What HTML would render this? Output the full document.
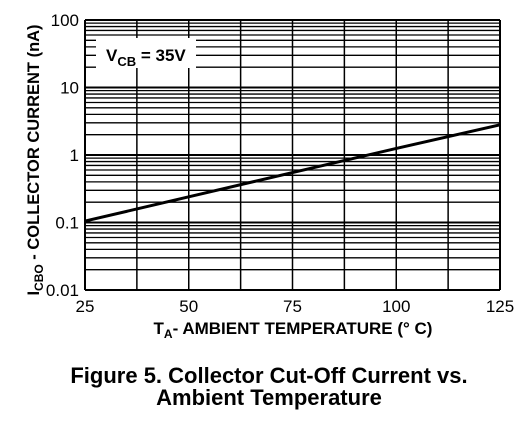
<!DOCTYPE html>
<html><head><meta charset="utf-8"><style>
body{margin:0;background:#fff;width:525px;height:427px;overflow:hidden;font-family:"Liberation Sans",Arial,sans-serif}
svg text{font-family:"Liberation Sans",Arial,sans-serif}
</style></head><body>
<svg width="525" height="427">
<g id="grid"></g>
<g id="ticks"></g>
<rect x="96" y="38" width="100" height="30" fill="#fff"/>
<text x="106" y="61" font-size="17" font-weight="bold">V<tspan font-size="13" dy="5">CB</tspan><tspan dy="-5"> = 35V</tspan></text>
<path id="series" fill="none" stroke="#000" stroke-width="3"/>
<text transform="translate(39,160) rotate(-90)" text-anchor="middle" font-size="16.5" font-weight="bold">I<tspan font-size="12" dy="4">CBO</tspan><tspan dy="-4"> - COLLECTOR CURRENT (nA)</tspan></text>
<text x="293" y="334" text-anchor="middle" font-size="17" font-weight="bold">T<tspan font-size="12" dy="4">A</tspan><tspan dy="-4">- AMBIENT TEMPERATURE (° C)</tspan></text>
<text x="269" y="383" text-anchor="middle" font-size="22" font-weight="bold">Figure 5. Collector Cut-Off Current vs.</text>
<text x="269" y="405" text-anchor="middle" font-size="22" font-weight="bold">Ambient Temperature</text>
</svg>
<script>
const temps=[25,50,75,100,125];
const currents=[0.105,0.24,0.55,1.25,2.8];
const xTicks=[25,50,75,100,125];
const yTicks=["0.01","0.1","1","10","100"];
const L=85,R=500,T=20,B=290;
const xs=t=>L+(t-25)/100*(R-L);
const ys=v=>B-(Math.log10(v)+2)/4*(B-T);
const NS="http://www.w3.org/2000/svg";
const g=document.getElementById('grid'),tk=document.getElementById('ticks');
function ln(x1,y1,x2,y2,w){const l=document.createElementNS(NS,'line');l.setAttribute('x1',x1);l.setAttribute('y1',y1);l.setAttribute('x2',x2);l.setAttribute('y2',y2);l.setAttribute('stroke','#000');l.setAttribute('stroke-width',w);


g.appendChild(l);}
for(let d=-2;d<2;d++)for(let m=1;m<10;m++){const y=ys(m*Math.pow(10,d));ln(L,y,R,y,m==1?2:1.3);}
ln(L,T,R,T,2);
for(let t=25;t<=125;t+=12.5){ln(xs(t),T,xs(t),B,t==25||t==125?2:1.5);}
xTicks.forEach(t=>{const e=document.createElementNS(NS,'text');e.setAttribute('x',xs(t));e.setAttribute('y',B+22);e.setAttribute('text-anchor','middle');e.setAttribute('font-size','17');e.textContent=t;


tk.appendChild(e);});
yTicks.forEach(s=>{const e=document.createElementNS(NS,'text');e.setAttribute('x',L-6);e.setAttribute('y',ys(parseFloat(s))+6);e.setAttribute('text-anchor','end');e.setAttribute('font-size','17');e.textContent=s;


tk.appendChild(e);});
document.getElementById('series').setAttribute('d',temps.map((t,i)=>(i?'L':'M')+xs(t)+','+ys(currents[i])).join(''));
</script>
</body></html>
